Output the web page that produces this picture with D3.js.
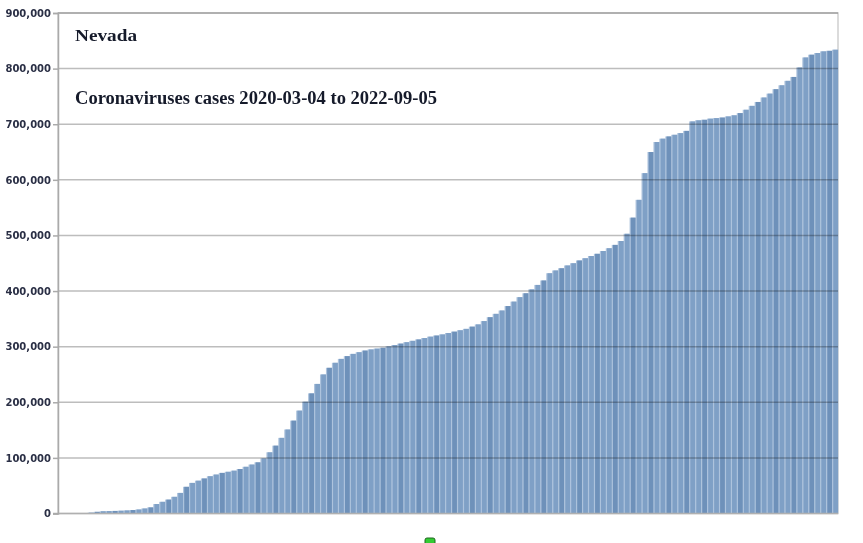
<!DOCTYPE html>
<html>
<head>
<meta charset="utf-8">
<script src="https://cdn.jsdelivr.net/npm/d3@7"></script>
<style>
  html, body { margin: 0; padding: 0; background: #fff; }
  svg { display: block; }
</style>
</head>
<body>
<svg id="chart" width="863" height="543"></svg>
<script>
// ---- data (cumulative cases, thousands, weekly from 2020-03-04) ----
const startDate = "2020-03-04";
const endDate = "2022-09-05";
const title = "Nevada";
const subtitle = "Coronaviruses cases 2020-03-04 to 2022-09-05";
const yTicks = [0, 100000, 200000, 300000, 400000, 500000, 600000, 700000, 800000, 900000];
const casesThousands = [
  0, 0, 0.1, 0.3, 0.8, 1.5, 3, 4, 4.3, 4.6,
  5, 5.5, 6.2, 7.2, 9, 11, 17, 21, 25, 30,
  37, 48, 55, 59, 63, 67, 70, 73, 75, 77,
  80, 84, 88, 92, 99, 110, 122, 136, 151, 167,
  185, 201, 216, 233, 250, 262, 271, 278, 283, 287,
  290, 293, 295, 296.5, 298, 300.5, 303, 305.5, 308, 310.5,
  313, 315.5, 318, 320, 322, 324.5, 327, 329.5, 332, 336,
  340, 346, 353, 359, 365, 373, 381, 389, 396, 403,
  411, 419, 432, 437, 441, 446, 450, 455, 459, 463,
  467, 472, 477, 483, 490, 503, 532, 564, 612, 650,
  668, 674, 678, 681, 684, 688, 705, 707, 708, 710,
  711, 712, 714, 716, 720, 726, 733, 740, 748, 755,
  763, 770, 778, 785, 802, 820, 825, 828, 831, 832,
  834
];

// category labels: one per weekly value
const parse = d3.timeParse("%Y-%m-%d");
const fmt = d3.timeFormat("%Y-%m-%d");
const dates = casesThousands.map((_, i) => fmt(d3.timeDay.offset(parse(startDate), i * 7)));
dates[dates.length - 1] = endDate;
const data = dates.map((d, i) => ({ date: d, value: casesThousands[i] * 1000 }));

// ---- layout ----
const svg = d3.select("#chart");
const margin = { left: 58, right: 25, top: 13, bottom: 30 };
const W = 863, H = 543;
const plotW = W - margin.left - margin.right;

const x = d3.scaleBand().domain(dates).range([margin.left, margin.left + plotW]).paddingInner(0).paddingOuter(0);
const y = d3.scaleLinear().domain([0, 900000]).range([513.5, margin.top]);

// plot frame (top/right)
svg.append("rect")
  .attr("x", margin.left).attr("y", margin.top)
  .attr("width", plotW).attr("height", y(0) - margin.top)
  .attr("fill", "none").attr("stroke", "#cfcfcf").attr("stroke-width", 1.5);

// bars: light under-layer + main bars with narrow gaps for striping
const gBars = svg.append("g");
gBars.selectAll("rect.under").data(data).join("rect")
  .attr("class", "under")
  .attr("x", d => x(d.date))
  .attr("width", x.bandwidth() + 0.3)
  .attr("y", d => y(d.value))
  .attr("height", d => y(0) - y(d.value))
  .attr("fill", "#adc3dd");
gBars.selectAll("rect.main").data(data).join("rect")
  .attr("class", "main")
  .attr("x", d => x(d.date) + x.bandwidth() * 0.2)
  .attr("width", x.bandwidth() * 0.8)
  .attr("y", d => y(d.value))
  .attr("height", d => y(0) - y(d.value))
  .attr("fill", (d, i) => (i % 3 === 0 ? "#6e91ba" : "#7fa0c6"));

// gridlines (multiply so they darken over bars)
const gGrid = svg.append("g").style("mix-blend-mode", "multiply");
gGrid.selectAll("line").data(yTicks.filter(t => t > 0)).join("line")
  .attr("x1", margin.left).attr("x2", margin.left + plotW)
  .attr("y1", d => y(d)).attr("y2", d => y(d))
  .attr("stroke", "#bdbdbd").attr("stroke-width", 1.5);

// baseline
svg.append("line")
  .attr("x1", margin.left - 5).attr("x2", margin.left + plotW)
  .attr("y1", y(0)).attr("y2", y(0))
  .attr("stroke", "#b0b0b0").attr("stroke-width", 1.5);

// y axis
const yAxis = d3.axisLeft(y).tickValues(yTicks).tickFormat(d3.format(",")).tickSize(5).tickPadding(2);
const gy = svg.append("g").attr("transform", `translate(${margin.left},0)`).call(yAxis);
gy.select(".domain").attr("stroke", "#aaaaaa").attr("stroke-width", 1.5);
gy.selectAll(".tick line").attr("stroke", "#aaaaaa").attr("stroke-width", 1.5);
gy.selectAll(".tick text")
  .attr("fill", "#2a2f45")
  .style("font-family", "'DejaVu Sans', Verdana, sans-serif")
  .style("font-size", "10px")
  .style("font-weight", "bold");

// titles
svg.append("text").attr("x", 75).attr("y", 41)
  .text(title)
  .attr("textLength", 62).attr("lengthAdjust", "spacingAndGlyphs")
  .style("font-family", "'Liberation Serif', 'DejaVu Serif', serif")
  .style("font-size", "17.5px").style("font-weight", "bold").attr("fill", "#151a2a");
svg.append("text").attr("x", 75).attr("y", 104)
  .text(subtitle)
  .attr("textLength", 362).attr("lengthAdjust", "spacingAndGlyphs")
  .style("font-family", "'Liberation Serif', 'DejaVu Serif', serif")
  .style("font-size", "18px").style("font-weight", "bold").attr("fill", "#151a2a");

// legend marker (no label)
svg.append("rect")
  .attr("x", 425).attr("y", 538).attr("width", 10).attr("height", 9).attr("rx", 2)
  .attr("fill", "#33cc33").attr("stroke", "#226622").attr("stroke-width", 1);
</script>
</body>
</html>
